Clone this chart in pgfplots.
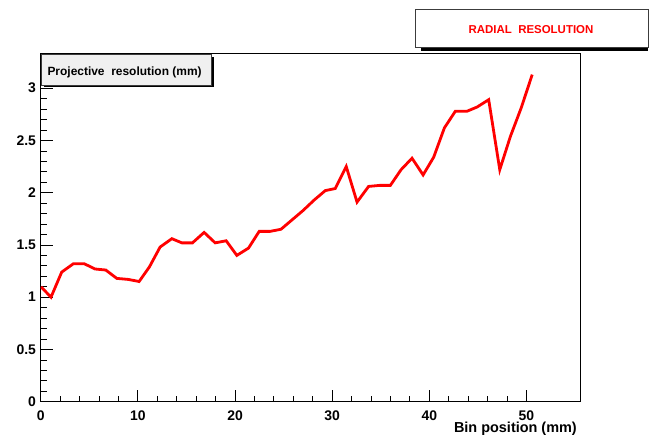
\documentclass[border=0pt]{standalone}
\usepackage{pgfplots}
\pgfplotsset{compat=1.18}
\usepackage{fontspec}
\setmainfont{Liberation Sans}
\definecolor{boxgray}{RGB}{240,240,240}
\definecolor{framegray}{RGB}{60,60,60}

\begin{document}
\begin{tikzpicture}
\path[use as bounding box] (0,0) rectangle (657bp,440bp);
\begin{axis}[
    at={(40.7bp,38.3bp)}, anchor=south west,
    scale only axis,
    width=539.8bp, height=348.4bp,
    xmin=0, xmax=55.56,
    ymin=0, ymax=3.334,
    xtick={0,10,20,30,40,50},
    ytick={0,0.5,1,1.5,2,2.5,3},
    yticklabels={0,0.5,1,1.5,2,2.5,3},
    minor x tick num=4,
    minor y tick num=4,
    xtick pos=bottom, ytick pos=left,
    tick align=inside,
    major tick length=12bp,
    minor tick length=6bp,
    axis line style={line width=1bp, black},
    every tick/.style={black, line width=0.8bp},
    /pgf/number format/assume math mode=true,
    ticklabel style={font=\fontsize{14}{16}\selectfont\bfseries},
    xticklabel style={inner sep=0pt, anchor=north, yshift=-8.5bp},
    yticklabel style={inner sep=0pt, anchor=east, xshift=-4.5bp},
    xlabel={Bin position (mm)},
    xlabel style={at={(rel axis cs:1,0)}, anchor=base east, inner sep=0pt,
        xshift=-3.5bp, yshift=-31bp,
        font=\fontsize{14.5}{17}\selectfont\bfseries},
]
\addplot[color=red, line width=2.8bp] coordinates {
(0.03,1.10)(1.06,1.00)(2.16,1.24)(3.36,1.32)(4.49,1.32)(5.59,1.27)
(6.70,1.26)(7.83,1.18)(9.03,1.17)(10.13,1.15)(11.19,1.29)(12.29,1.48)
(13.50,1.56)(14.53,1.52)(15.62,1.52)(16.82,1.62)(17.96,1.52)(19.09,1.54)
(20.19,1.40)(21.39,1.47)(22.49,1.63)(23.62,1.63)(24.73,1.65)(25.87,1.74)
(27.01,1.83)(28.15,1.93)(29.29,2.02)(30.32,2.04)(31.45,2.25)(32.56,1.91)
(33.75,2.06)(34.89,2.07)(35.99,2.07)(37.09,2.22)(38.22,2.33)(39.36,2.17)
(40.45,2.34)(41.55,2.62)(42.68,2.78)(43.89,2.78)(44.92,2.82)(46.11,2.89)
(47.25,2.22)(48.35,2.54)(49.45,2.81)(50.59,3.13)
};
\end{axis}
% title box
\fill[black] (420.7bp,389.3bp) rectangle (648.3bp,395bp);
\draw[framegray, line width=0.8bp, fill=white] (415.7bp,392.3bp) rectangle (648.3bp,430.7bp);
\node[anchor=base, inner sep=0pt, text=red, font=\fontsize{11.5}{14}\selectfont\bfseries]
    at (531bp,406bp) {RADIAL\ \ RESOLUTION};
% y label box
\fill[black] (44bp,352.5bp) rectangle (214bp,383bp);
\draw[framegray, line width=0.8bp, fill=boxgray] (41.7bp,355bp) rectangle (211.7bp,386bp);
\node[anchor=base west, inner sep=0pt, font=\fontsize{12}{14}\selectfont\bfseries]
    at (47.3bp,364.5bp) {Projective\ \ resolution (mm)};
\end{tikzpicture}
\end{document}
